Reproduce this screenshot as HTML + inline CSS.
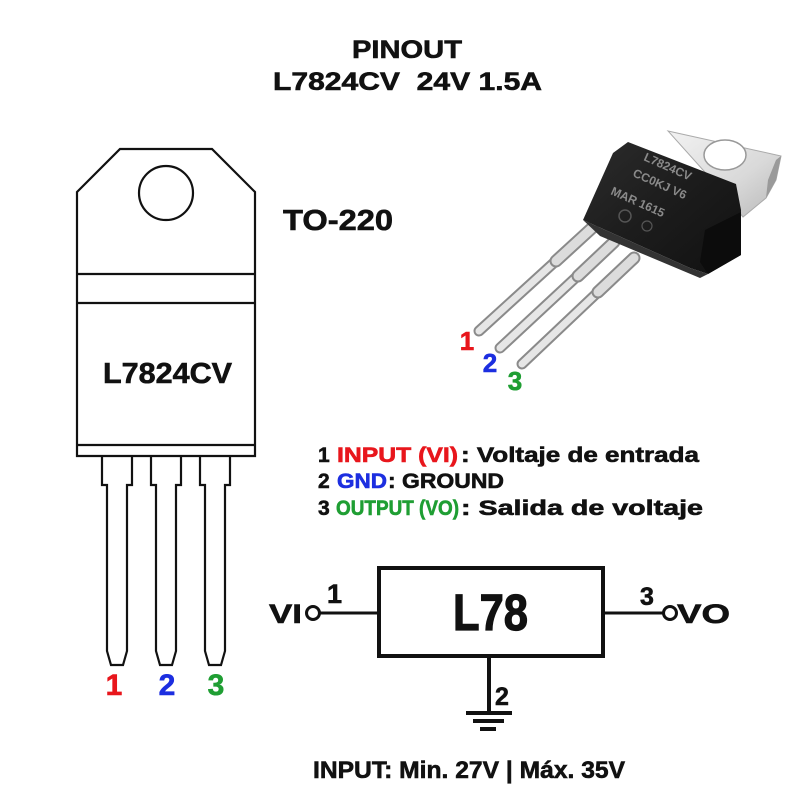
<!DOCTYPE html>
<html><head><meta charset="utf-8"><style>
html,body{margin:0;padding:0;background:#fff;}
svg{display:block;}
text{font-family:"Liberation Sans",Arial,sans-serif;font-weight:bold;}
.h{stroke-width:0.6;paint-order:stroke;}
</style></head><body>
<svg width="800" height="800" viewBox="0 0 800 800" xmlns="http://www.w3.org/2000/svg">
<defs>
<linearGradient id="tabg" x1="0" y1="0" x2="1" y2="1">
<stop offset="0" stop-color="#f2f2f2"/><stop offset="0.6" stop-color="#d9d9d9"/><stop offset="1" stop-color="#b8b8b8"/>
</linearGradient>
<linearGradient id="bodyg" x1="0" y1="0" x2="1" y2="1">
<stop offset="0" stop-color="#2c2c2c"/><stop offset="0.5" stop-color="#1c1c1c"/><stop offset="1" stop-color="#111"/>
</linearGradient>
</defs>
<rect width="800" height="800" fill="#fff"/>

<!-- Title -->
<text class="h" stroke="#111" x="352" y="58" font-size="25" fill="#111" textLength="110" lengthAdjust="spacingAndGlyphs">PINOUT</text>
<text class="h" stroke="#111" x="273" y="90" font-size="25" fill="#111" textLength="269" lengthAdjust="spacingAndGlyphs">L7824CV&#160;&#160;24V 1.5A</text>

<!-- TO-220 label -->
<text class="h" stroke="#111" x="283" y="230" font-size="29" fill="#111" textLength="110" lengthAdjust="spacingAndGlyphs">TO-220</text>

<!-- Left outline drawing -->
<g fill="none" stroke="#111" stroke-width="2.2" stroke-linejoin="miter">
<path d="M77,192 L120,149 L212,149 L255,192 L255,456 L77,456 Z" fill="#fff"/>
<circle cx="166" cy="193" r="27"/>
<line x1="77" y1="274" x2="255" y2="274"/>
<line x1="77" y1="303" x2="255" y2="303"/>
<line x1="77" y1="445" x2="255" y2="445"/>
<path d="M102,456 L102,485 L107,485 L107,651 L111,665 L123,665 L127,651 L127,485 L132,485 L132,456"/>
<path d="M151,456 L151,485 L156,485 L156,651 L160,665 L172,665 L176,651 L176,485 L181,485 L181,456"/>
<path d="M200,456 L200,485 L205,485 L205,651 L209,665 L221,665 L225,651 L225,485 L230,485 L230,456"/>
</g>
<text class="h" stroke="#111" x="103" y="383" font-size="29" fill="#111" textLength="129" lengthAdjust="spacingAndGlyphs">L7824CV</text>
<text class="h" stroke="#e8161c" x="114" y="695" font-size="30" fill="#e8161c" text-anchor="middle">1</text>
<text class="h" stroke="#1c2ee0" x="167" y="695" font-size="30" fill="#1c2ee0" text-anchor="middle">2</text>
<text class="h" stroke="#1f9e33" x="216" y="695" font-size="30" fill="#1f9e33" text-anchor="middle">3</text>

<!-- Photo-like regulator -->
<g>
<polygon points="668,131 781,156 776,180 766,198 743,217 712,180" fill="url(#tabg)" stroke="#aaa" stroke-width="1"/>
<polygon points="776,160 781,156 776,180 766,198 768,180" fill="#9a9a9a"/>
<ellipse cx="725" cy="155" rx="21" ry="15" fill="#fff" stroke="#999" stroke-width="1.5"/>
<!-- leads -->
<g stroke-linecap="round">
<line x1="592" y1="228" x2="479" y2="331" stroke="#8a8a8a" stroke-width="11"/>
<line x1="592" y1="228" x2="479" y2="331" stroke="#e6e6e6" stroke-width="7"/>
<line x1="592" y1="228" x2="556" y2="261" stroke="#8a8a8a" stroke-width="13"/>
<line x1="592" y1="228" x2="556" y2="261" stroke="#dcdcdc" stroke-width="9"/>
<line x1="614" y1="242" x2="500" y2="348" stroke="#8a8a8a" stroke-width="11"/>
<line x1="614" y1="242" x2="500" y2="348" stroke="#e6e6e6" stroke-width="7"/>
<line x1="614" y1="242" x2="578" y2="276" stroke="#8a8a8a" stroke-width="13"/>
<line x1="614" y1="242" x2="578" y2="276" stroke="#dcdcdc" stroke-width="9"/>
<line x1="634" y1="258" x2="522" y2="364" stroke="#8a8a8a" stroke-width="11"/>
<line x1="634" y1="258" x2="522" y2="364" stroke="#e6e6e6" stroke-width="7"/>
<line x1="634" y1="258" x2="598" y2="292" stroke="#8a8a8a" stroke-width="13"/>
<line x1="634" y1="258" x2="598" y2="292" stroke="#dcdcdc" stroke-width="9"/>
</g>
<!-- body -->
<polygon points="613,153 628,142 736,184 741,210 741,255 708,274 690,268 583,220" fill="url(#bodyg)"/>
<polygon points="705,230 741,212 741,255 708,274 700,262" fill="#0c0c0c"/>
<polygon points="583,220 690,268 708,274 700,278 600,236" fill="#333"/>
<g font-size="12" fill="#8a8a8a" font-weight="normal">
<text x="643" y="160" transform="rotate(24 643 160)">L7824CV</text>
<text x="632" y="176" transform="rotate(24 632 176)">CC0KJ  V6</text>
<text x="610" y="194" transform="rotate(24 610 194)">MAR   1615</text>
</g>
<circle cx="625" cy="216" r="6" fill="none" stroke="#555" stroke-width="1.5"/>
<circle cx="647" cy="226" r="5" fill="none" stroke="#555" stroke-width="1.2"/>
</g>
<text class="h" stroke="#e8161c" x="467" y="350" font-size="26" fill="#e8161c" text-anchor="middle">1</text>
<text class="h" stroke="#1c2ee0" x="490" y="372" font-size="26" fill="#1c2ee0" text-anchor="middle">2</text>
<text class="h" stroke="#1f9e33" x="515" y="390" font-size="26" fill="#1f9e33" text-anchor="middle">3</text>

<!-- Pin descriptions -->
<g font-size="21">
<text class="h" stroke="#111" x="318" y="462" fill="#111">1</text>
<text class="h" stroke="#e8161c" x="337" y="462" fill="#e8161c" textLength="121" lengthAdjust="spacingAndGlyphs">INPUT (VI)</text>
<text class="h" stroke="#111" x="461" y="462" fill="#111" textLength="238" lengthAdjust="spacingAndGlyphs">: Voltaje de entrada</text>
<text class="h" stroke="#111" x="318" y="488" fill="#111">2</text>
<text class="h" stroke="#1c2ee0" x="337" y="488" fill="#1c2ee0" textLength="50" lengthAdjust="spacingAndGlyphs">GND</text>
<text class="h" stroke="#111" x="388" y="488" fill="#111" textLength="116" lengthAdjust="spacingAndGlyphs">: GROUND</text>
<text class="h" stroke="#111" x="318" y="515" fill="#111">3</text>
<text class="h" stroke="#1f9e33" x="336" y="515" fill="#1f9e33" textLength="123" lengthAdjust="spacingAndGlyphs">OUTPUT (VO)</text>
<text class="h" stroke="#111" x="461" y="515" fill="#111" textLength="242" lengthAdjust="spacingAndGlyphs">: Salida de voltaje</text>
</g>

<!-- Schematic -->
<g stroke="#111" fill="none">
<rect x="379" y="568" width="224" height="88" stroke-width="4"/>
<line x1="320" y1="613" x2="379" y2="613" stroke-width="3"/>
<circle cx="313" cy="613" r="6.5" stroke-width="3" fill="#fff"/>
<line x1="603" y1="613" x2="663" y2="613" stroke-width="3"/>
<circle cx="670" cy="613" r="6.5" stroke-width="3" fill="#fff"/>
<line x1="489" y1="656" x2="489" y2="713" stroke-width="4"/>
<line x1="466" y1="713" x2="512" y2="713" stroke-width="4"/>
<line x1="473" y1="721" x2="504" y2="721" stroke-width="4"/>
<line x1="480" y1="729" x2="496" y2="729" stroke-width="4"/>
</g>
<text class="h" stroke="#111" x="453" y="630" font-size="51" fill="#111" textLength="75" lengthAdjust="spacingAndGlyphs" style="stroke-width:1.2">L78</text>
<text class="h" stroke="#111" x="269" y="623" font-size="27" fill="#111" textLength="33" lengthAdjust="spacingAndGlyphs">VI</text>
<text class="h" stroke="#111" x="327" y="603" font-size="27" fill="#111">1</text>
<text class="h" stroke="#111" x="640" y="605" font-size="25" fill="#111">3</text>
<text class="h" stroke="#111" x="677" y="623" font-size="27" fill="#111" textLength="53" lengthAdjust="spacingAndGlyphs">VO</text>
<text class="h" stroke="#111" x="495" y="705" font-size="25" fill="#111">2</text>

<!-- Bottom text -->
<text class="h" stroke="#111" x="313" y="778" font-size="24" fill="#111" textLength="312" lengthAdjust="spacingAndGlyphs">INPUT: Min. 27V | Máx. 35V</text>
</svg>
</body></html>
